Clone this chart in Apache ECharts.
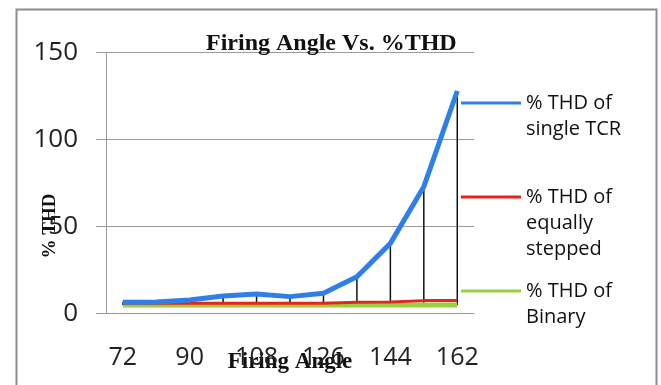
<!DOCTYPE html>
<html>
<head>
<meta charset="utf-8">
<script src="https://cdn.jsdelivr.net/npm/echarts@6/dist/echarts.min.js"></script>
<style>html,body{margin:0;padding:0;background:#fff}#c{width:661px;height:385px}</style>
</head>
<body>
<div id="c"></div>
<script>
const categories = ['72','81','90','99','108','117','126','135','144','153','162'];
const thdSingleTCR = [6.5, 6.6, 7.8, 10.0, 11.2, 9.7, 11.6, 21.1, 40.3, 72.9, 127.9];
const thdEquallyStepped = [5.9, 5.9, 5.9, 5.9, 5.9, 5.9, 5.9, 6.4, 6.6, 7.4, 7.4];
const thdBinary = [4.9, 4.9, 4.9, 4.9, 4.9, 4.9, 4.9, 4.9, 4.9, 4.9, 4.9];
const seriesNames = ['% THD of\nsingle TCR', '% THD of\nequally\nstepped', '% THD of\nBinary'];
const yTicks = [0, 50, 100, 150];

const hi = categories.map((_, i) => Math.max(thdSingleTCR[i], thdEquallyStepped[i], thdBinary[i]));
const lo = categories.map((_, i) => Math.min(thdSingleTCR[i], thdEquallyStepped[i], thdBinary[i]));
const span = hi.map((h, i) => +(h - lo[i]).toFixed(2));

const chart = echarts.init(document.getElementById('c'), null, {renderer: 'canvas'});
const sansFont = '"Open Sans", "Liberation Sans", sans-serif';
const serifFont = '"Liberation Serif", "DejaVu Serif", serif';
const lh = 26;
function mkLegend(name, color, centerY) {
  const n = name.split('\n').length;
  const boxH = (2 * n - 1) * lh;
  return {
    data: [name],
    orient: 'vertical',
    left: 461,
    top: centerY - boxH / 2,
    padding: 0,
    itemWidth: 60,
    itemHeight: 3,
    icon: 'rect',
    selectedMode: false,
    itemStyle: {color: color},
    formatter: function (nm) { return '\u00a0\n'.repeat(n - 1) + nm; },
    textStyle: {fontFamily: sansFont, fontSize: 20, color: '#111', lineHeight: lh}
  };
}
chart.setOption({
  backgroundColor: '#fff',
  animation: false,
  title: {
    text: 'Firing Angle Vs. %THD',
    left: 206, top: 32, padding: 0,
    textStyle: {fontFamily: serifFont, fontWeight: 'bold', fontSize: 24, color: '#111'}
  },
  graphic: [{
    type: 'rect', left: 14, top: 7, silent: true,
    shape: {width: 640, height: 400},
    style: {fill: 'none', stroke: '#8c8c8c', lineWidth: 2}
  }],
  legend: [
    mkLegend(seriesNames[0], '#2f80e6', 103),
    mkLegend(seriesNames[1], '#e8231e', 197),
    mkLegend(seriesNames[2], '#98d040', 291)
  ],
  grid: {left: 106, right: 187, top: 52.5, bottom: 71.5, containLabel: false, outerBoundsMode: 'none'},
  xAxis: {
    type: 'category',
    data: categories,
    boundaryGap: true,
    name: 'Firing Angle',
    nameLocation: 'middle',
    nameGap: 37,
    nameMoveOverlap: false,
    nameTextStyle: {fontFamily: serifFont, fontWeight: 'bold', fontSize: 23, color: '#111'},
    axisLine: {lineStyle: {color: '#9a9a9a', width: 1}},
    axisTick: {show: false},
    axisLabel: {interval: 1, margin: 32, fontFamily: sansFont, fontSize: 25, color: '#222'}
  },
  yAxis: {
    type: 'value',
    min: yTicks[0], max: yTicks[yTicks.length - 1], interval: yTicks[1] - yTicks[0],
    name: '% THD',
    nameLocation: 'middle',
    nameGap: 46,
    nameMoveOverlap: false,
    nameTextStyle: {fontFamily: serifFont, fontWeight: 'bold', fontSize: 19, color: '#111', padding: [0, 86, 0, 0]},
    axisLine: {show: true, lineStyle: {color: '#9a9a9a', width: 1}},
    axisTick: {show: true, length: 10, lineStyle: {color: '#9a9a9a'}},
    splitLine: {lineStyle: {color: '#9a9a9a', width: 1}},
    axisLabel: {margin: 28, fontFamily: sansFont, fontSize: 26, color: '#222'}
  },
  series: [
    {name: seriesNames[2], type: 'line', data: thdBinary, showSymbol: false, symbol: 'none',
     lineStyle: {color: '#98d040', width: 5}, itemStyle: {color: '#98d040'}},
    {name: seriesNames[1], type: 'line', data: thdEquallyStepped, showSymbol: false, symbol: 'none',
     lineStyle: {color: '#e8231e', width: 3}, itemStyle: {color: '#e8231e'}},
    {name: seriesNames[0], type: 'line', data: thdSingleTCR, showSymbol: false, symbol: 'none',
     lineStyle: {color: '#2f80e6', width: 5}, itemStyle: {color: '#2f80e6'}},
    {name: 'lowBase', type: 'bar', stack: 'hilo', data: lo, barWidth: 1.5, silent: true,
     itemStyle: {color: 'rgba(0,0,0,0)'}},
    {name: 'hiLow', type: 'bar', stack: 'hilo', data: span, barWidth: 1.5, silent: true,
     itemStyle: {color: '#111'}}
  ]
});
</script>
</body>
</html>
